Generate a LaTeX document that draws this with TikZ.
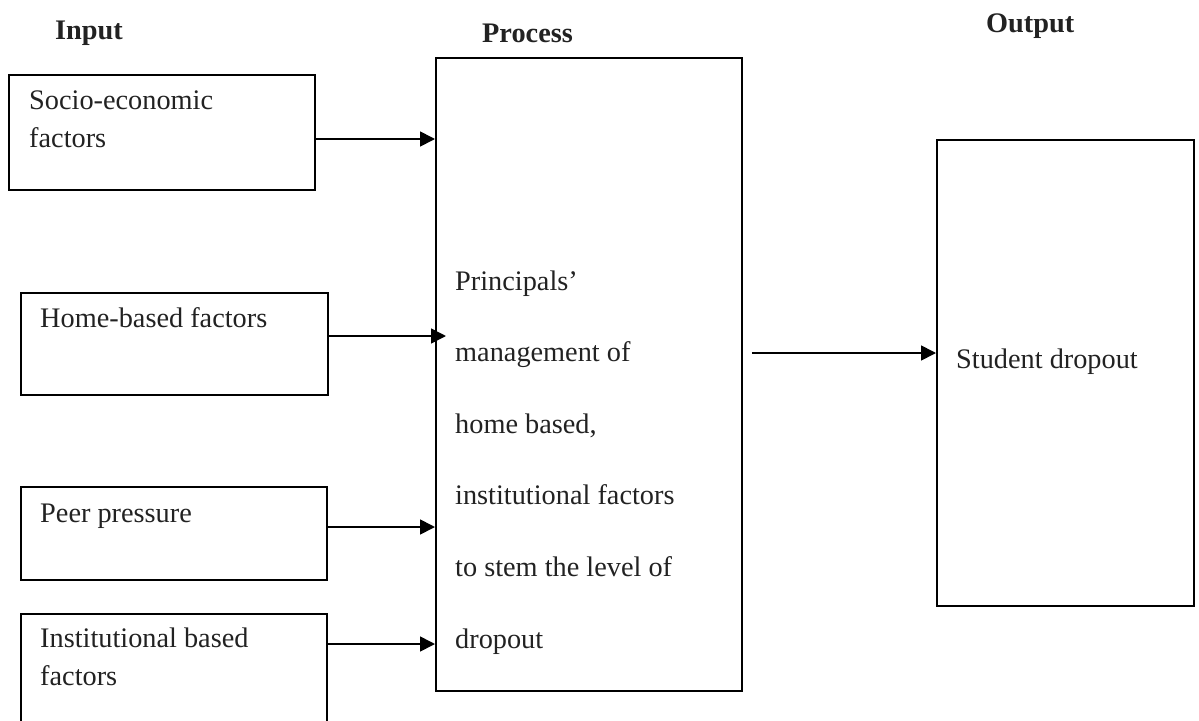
\documentclass[tikz,border=0pt]{standalone}
\usepackage{fontspec}
\setmainfont{Liberation Serif}
\usetikzlibrary{arrows.meta,calc}
\definecolor{ink}{RGB}{34,34,34}
\begin{document}
\begin{tikzpicture}[x=1pt,y=-1pt,
  box/.style={draw=black,line width=1.8pt,rectangle,inner sep=0pt,anchor=north west},
  lbl/.style={text=ink,font=\fontsize{28.3}{37.5}\selectfont,inner sep=0pt,anchor=base west,align=left},
  ptext/.style={text=ink,font=\fontsize{28.3}{71.6}\selectfont,inner sep=0pt,anchor=base west,align=left},
  ttl/.style={text=ink,font=\fontsize{28.3}{34}\selectfont\bfseries,inner sep=0pt,anchor=base west},
  conn/.style={line width=1.7pt,-{Triangle[length=15pt,width=15pt]}}]
\useasboundingbox (0,0) rectangle (1199,720);
\clip (0,0) rectangle (1199,720);
% titles
\node[ttl] (tin) at (55,39) {Input};
\node[ttl] (tproc) at (482,42) {Process};
\node[ttl] (tout) at (986,32) {Output};
% boxes
\node[box,minimum width=306pt,minimum height=115pt] (socio) at (8,74) {};
\node[box,minimum width=307pt,minimum height=102pt] (home) at (20,292) {};
\node[box,minimum width=306pt,minimum height=93pt] (peer) at (20,486) {};
\node[box,minimum width=306pt,minimum height=130pt] (inst) at (20,613) {};
\node[box,minimum width=306pt,minimum height=633pt] (proc) at (435,57) {};
\node[box,minimum width=257pt,minimum height=466pt] (out) at (936,139) {};
% texts (base anchor = baseline of the last line)
\node[lbl] (tsocio) at (29,147) {Socio-economic\\factors};
\node[lbl] (thome) at (40,327) {Home-based factors};
\node[lbl] (tpeer) at (40,522) {Peer pressure};
\node[lbl] (tinst) at (40,685) {Institutional based\\factors};
\node[ptext] (tp) at (455,648) {Principals’\\management of\\home based,\\institutional factors\\to stem the level of\\dropout};
\node[lbl] (tsd) at (956,368) {Student dropout};
% connectors
\coordinate (a1) at ($(socio.north east)+(0,65)$);
\coordinate (a2) at ($(home.north east)+(0,44)$);
\coordinate (a3) at ($(peer.north east)+(0,41)$);
\coordinate (a4) at ($(inst.north east)+(0,31)$);
\coordinate (a5) at ($(proc.north east)+(9,296)$);
\draw[conn] (a1) -- (a1 -| proc.west);
\draw[conn] (a2) -- ($(a2 -| proc.west)+(11,0)$);
\draw[conn] (a3) -- (a3 -| proc.west);
\draw[conn] (a4) -- (a4 -| proc.west);
\draw[conn] (a5) -- (a5 -| out.west);
\end{tikzpicture}
\end{document}
